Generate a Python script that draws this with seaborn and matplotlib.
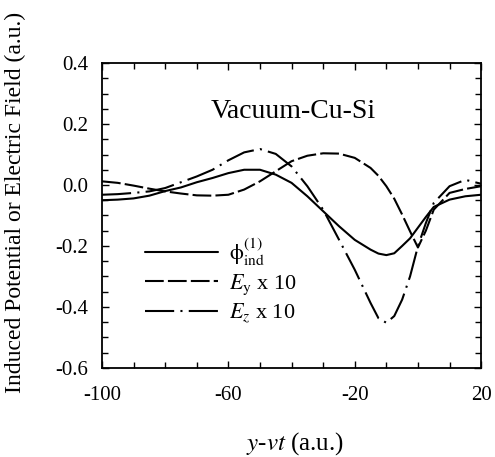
import numpy as np
import pandas as pd
import matplotlib.pyplot as plt
import seaborn as sns
from matplotlib.ticker import MultipleLocator

# values
x = [-100, -95, -90, -85, -80, -75, -70, -65, -60, -55, -50, -45, -40, -35,
     -30, -25, -20, -15, -12.5, -10, -7.5, -5, -2.5, 0, 2.5, 5, 10, 15, 20]
phi = [-0.050, -0.048, -0.044, -0.035, -0.020, -0.008, 0.009, 0.023, 0.039,
       0.050, 0.050, 0.034, 0.007, -0.037, -0.086, -0.135, -0.180, -0.212,
       -0.225, -0.230, -0.224, -0.200, -0.175, -0.140, -0.105, -0.072,
       -0.048, -0.037, -0.032]
ey = [0.012, 0.007, -0.002, -0.012, -0.021, -0.028, -0.034, -0.035, -0.032,
      -0.015, 0.012, 0.045, 0.078, 0.096, 0.104, 0.103, 0.089, 0.056,
      0.030, -0.004, -0.045, -0.097, -0.152, -0.205, -0.150, -0.081,
      -0.026, -0.013, -0.004]
ez = [-0.032, -0.030, -0.026, -0.021, -0.010, 0.009, 0.028, 0.050, 0.081,
      0.107, 0.118, 0.102, 0.061, -0.004, -0.081, -0.179, -0.278, -0.387,
      -0.437, -0.452, -0.430, -0.376, -0.300, -0.201, -0.125, -0.059,
      -0.004, 0.017, 0.004]

xticks = [-100, -60, -20, 20]
yticks = [0.4, 0.2, 0.0, -0.2, -0.4, -0.6]
labels = [r"$\mathrm{\phi}^{(1)}_{\mathrm{ind}}$", r"$E_{\mathrm{y}}$ x 10", r"$E_z$ x 10"]

df = pd.concat([
    pd.DataFrame({"x": x, "y": phi, "series": labels[0]}),
    pd.DataFrame({"x": x, "y": ey, "series": labels[1]}),
    pd.DataFrame({"x": x, "y": ez, "series": labels[2]}),
])

sns.set_style("ticks")
plt.rcParams["font.family"] = ["Liberation Serif", "DejaVu Serif"]
plt.rcParams["mathtext.fontset"] = "stix"
plt.rcParams["axes.unicode_minus"] = False
plt.rcParams["text.color"] = "black"
plt.rcParams["axes.labelcolor"] = "black"

fig = plt.figure(figsize=(4.95, 4.57), dpi=100)
ax = fig.add_axes([0.206, 0.195, 0.766, 0.667])

sns.lineplot(data=df, x="x", y="y", hue="series", style="series",
             palette=["black"] * 3,
             dashes={labels[0]: "", labels[1]: (9, 2), labels[2]: (14, 3, 1, 3)},
             linewidth=1.5, ax=ax, sort=False)

ax.set_xlim(-100, 20)
ax.set_ylim(-0.6, 0.4)
ax.set_xticks(xticks)
ax.set_xticklabels([str(v) for v in xticks])
ax.xaxis.set_minor_locator(MultipleLocator(10))
ax.set_yticks(yticks)
ax.set_yticklabels([f"{v:.1f}" for v in yticks])
ax.yaxis.set_minor_locator(MultipleLocator(0.05))
ax.tick_params(which="both", direction="in", top=True, right=True,
               width=1.0, colors="black")
ax.tick_params(which="major", length=5, labelsize=15)
ax.tick_params(which="minor", length=4)
ax.tick_params(axis="x", pad=13)
ax.tick_params(axis="y", pad=10)
for s in ax.spines.values():
    s.set_linewidth(1.3)
    s.set_color("black")

ax.set_xlabel(r"$y$-$vt$ (a.u.)", fontsize=18)
ax.set_ylabel("Induced Potential or Electric Field (a.u.)", fontsize=17)
ax.xaxis.set_label_coords(0.51, -0.205)
ax.yaxis.set_label_coords(-0.2, 0.544)

ax.text(-39.5, 0.24, "Vacuum-Cu-Si", fontsize=20, ha="center", va="center")

h, l = ax.get_legend_handles_labels()
ax.legend(h, l, loc="lower left", bbox_to_anchor=(0.09, 0.11), frameon=False,
          fontsize=16, handlelength=3.3, handletextpad=0.5, labelspacing=0.2,
          borderaxespad=0)

fig.savefig("out.png", dpi=100)
